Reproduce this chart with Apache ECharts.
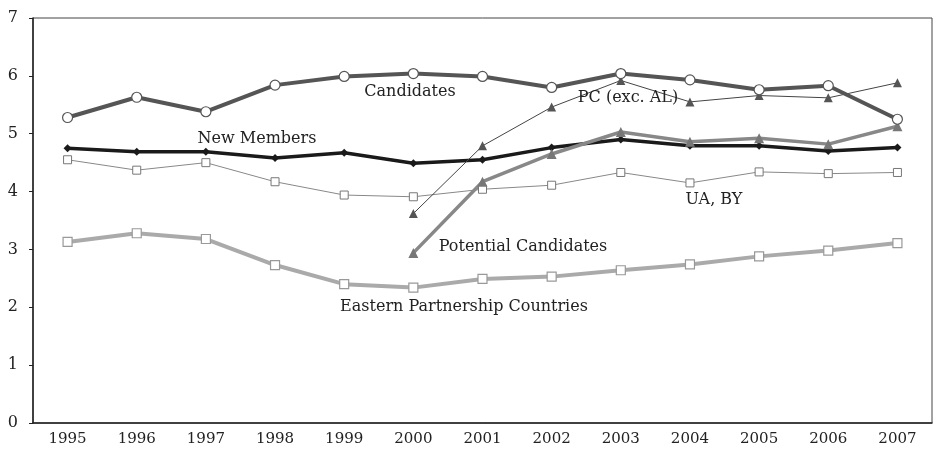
<!DOCTYPE html>
<html>
<head>
<meta charset="utf-8">
<script src="https://cdn.jsdelivr.net/npm/echarts@6/dist/echarts.min.js"></script>
<style>
  html, body { margin: 0; padding: 0; background: #fff; }
  #chart { width: 935px; height: 451px; }
</style>
</head>
<body>
<div id="chart"></div>
<script>
const years = ['1995', '1996', '1997', '1998', '1999', '2000', '2001', '2002', '2003', '2004', '2005', '2006', '2007'];
const candidates = [5.28, 5.63, 5.38, 5.84, 5.99, 6.04, 5.99, 5.80, 6.04, 5.93, 5.76, 5.83, 5.25];
const newMembers = [4.75, 4.69, 4.69, 4.58, 4.67, 4.49, 4.55, 4.76, 4.90, 4.79, 4.79, 4.70, 4.76];
const uaBy = [4.55, 4.37, 4.50, 4.17, 3.94, 3.91, 4.04, 4.11, 4.33, 4.15, 4.34, 4.31, 4.33];
const easternPartnership = [3.13, 3.28, 3.18, 2.73, 2.40, 2.34, 2.49, 2.53, 2.64, 2.74, 2.88, 2.98, 3.11];
const pcExcAL = [null, null, null, null, null, 3.62, 4.79, 5.46, 5.92, 5.55, 5.66, 5.62, 5.88];
const potentialCandidates = [null, null, null, null, null, 2.94, 4.17, 4.65, 5.03, 4.86, 4.92, 4.82, 5.13];
const yTicks = [0, 1, 2, 3, 4, 5, 6, 7];

const font = '"DejaVu Serif", "Liberation Serif", serif';

const chart = echarts.init(document.getElementById('chart'));

// series label text, placed by hand like in the print
const labels = [
  { text: 'Candidates', x: 410, y: 92 },
  { text: 'PC (exc. AL)', x: 628, y: 98 },
  { text: 'New Members', x: 257, y: 139 },
  { text: 'UA, BY', x: 714, y: 200 },
  { text: 'Potential Candidates', x: 523, y: 247 },
  { text: 'Eastern Partnership Countries', x: 464, y: 307 }
];

chart.setOption({
  animation: false,
  grid: {
    left: 33, right: 3, top: 18, bottom: 28,
    show: true,
    borderColor: '#444',
    borderWidth: 1
  },
  xAxis: {
    type: 'category',
    data: years,
    boundaryGap: true,
    axisLine: { lineStyle: { color: '#222', width: 1.5 } },
    axisTick: { length: 5, lineStyle: { color: '#222' } },
    axisLabel: { color: '#222', fontFamily: font, fontSize: 15, margin: 9 }
  },
  yAxis: {
    type: 'value',
    min: yTicks[0],
    max: yTicks[yTicks.length - 1],
    interval: 1,
    axisLine: { show: true, lineStyle: { color: '#222', width: 1.5 } },
    axisTick: { show: true, length: 4, lineStyle: { color: '#222' } },
    splitLine: { show: false },
    axisLabel: { color: '#222', fontFamily: font, fontSize: 16, margin: 15 }
  },
  graphic: labels.map(l => ({
    type: 'text',
    x: l.x,
    y: l.y,
    style: {
      text: l.text,
      fill: '#222',
      font: '16px ' + font,
      textAlign: 'center',
      textVerticalAlign: 'middle'
    },
    z: 100
  })),
  series: [
    {
      name: 'Eastern Partnership Countries',
      type: 'line',
      data: easternPartnership,
      lineStyle: { color: '#aaa', width: 4 },
      symbol: 'rect',
      symbolSize: 9,
      itemStyle: { color: '#fff', borderColor: '#999', borderWidth: 1.2 }
    },
    {
      name: 'UA, BY',
      type: 'line',
      data: uaBy,
      lineStyle: { color: '#888', width: 1 },
      symbol: 'rect',
      symbolSize: 8,
      itemStyle: { color: '#fff', borderColor: '#777', borderWidth: 1 }
    },
    {
      name: 'New Members',
      type: 'line',
      data: newMembers,
      lineStyle: { color: '#1a1a1a', width: 3.5 },
      symbol: 'diamond',
      symbolSize: 8,
      itemStyle: { color: '#1a1a1a' }
    },
    {
      name: 'Potential Candidates',
      type: 'line',
      data: potentialCandidates,
      lineStyle: { color: '#888', width: 3.5 },
      symbol: 'triangle',
      symbolSize: 10,
      itemStyle: { color: '#777' }
    },
    {
      name: 'PC (exc. AL)',
      type: 'line',
      data: pcExcAL,
      lineStyle: { color: '#444', width: 1 },
      symbol: 'triangle',
      symbolSize: 9,
      itemStyle: { color: '#555' }
    },
    {
      name: 'Candidates',
      type: 'line',
      data: candidates,
      lineStyle: { color: '#555', width: 4 },
      symbol: 'circle',
      symbolSize: 10,
      itemStyle: { color: '#fff', borderColor: '#555', borderWidth: 1.2 }
    }
  ]
});
</script>
</body>
</html>
